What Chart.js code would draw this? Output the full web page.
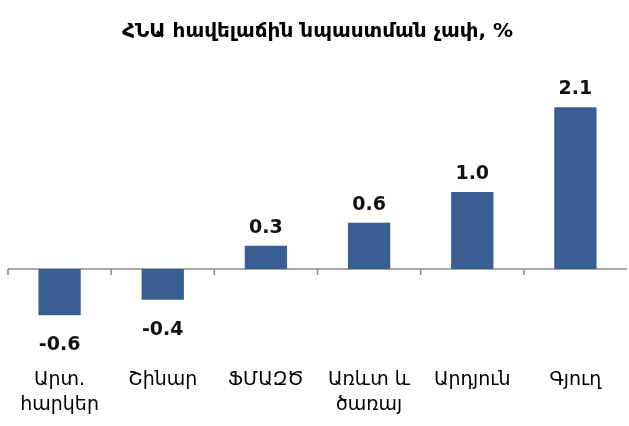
<!DOCTYPE html>
<html>
<head>
<meta charset="utf-8">
<script src="https://cdn.jsdelivr.net/npm/chart.js@4.4.0/dist/chart.umd.min.js"></script>
<style>
    html, body { margin: 0; padding: 0; background: #fff; }
    #wrap { width: 629px; height: 426px; }
</style>
</head>
<body>
<div id="wrap"><canvas id="gdpChart"></canvas></div>
<script>
// Chart data
const chartTitle = 'ՀՆԱ հավելաճին նպաստման չափ, %';
const categories = [
    ['Արտ.', 'հարկեր'],
    ['Շինար'],
    ['ՖՄԱԶԾ'],
    ['Առևտ և', 'ծառայ'],
    ['Արդյուն'],
    ['Գյուղ']
];
const contributions = [-0.6, -0.4, 0.3, 0.6, 1.0, 2.1];

const barColor = '#385E92';
const fontFamily = "'DejaVu Sans', 'Liberation Sans', Arial, sans-serif";

// Draw the zero line with small ticks between categories
const zeroAxisPlugin = {
    id: 'zeroAxis',
    beforeDatasetsDraw(chart) {
        const ctx = chart.ctx;
        const x = chart.scales.x;
        const y0 = chart.scales.y.getPixelForValue(0);
        ctx.save();
        ctx.strokeStyle = '#8c8c8c';
        ctx.lineWidth = 1.5;
        ctx.beginPath();
        ctx.moveTo(chart.chartArea.left, y0);
        ctx.lineTo(chart.chartArea.right, y0);
        const half = (x.getPixelForValue(1) - x.getPixelForValue(0)) / 2;
        for (let i = 0; i < categories.length; i++) {
            const px = x.getPixelForValue(i) - half;
            ctx.moveTo(px, y0);
            ctx.lineTo(px, y0 + 6);
        }
        ctx.stroke();
        ctx.restore();
    }
};

// Value labels above / below each bar
const valueLabelPlugin = {
    id: 'valueLabels',
    afterDatasetsDraw(chart) {
        const ctx = chart.ctx;
        const meta = chart.getDatasetMeta(0);
        ctx.save();
        ctx.font = 'bold 19px ' + fontFamily;
        ctx.fillStyle = '#111';
        ctx.textAlign = 'center';
        ctx.textBaseline = 'middle';
        meta.data.forEach((bar, i) => {
            const v = contributions[i];
            const y = v >= 0 ? bar.y - 18 : bar.y + 30;
            ctx.fillText(v.toFixed(1), bar.x, y);
        });
        ctx.restore();
    }
};

const ctx = document.getElementById('gdpChart').getContext('2d');
new Chart(ctx, {
    type: 'bar',
    data: {
        labels: categories,
        datasets: [{
            data: contributions,
            backgroundColor: barColor,
            categoryPercentage: 1.0,
            barPercentage: 0.41
        }]
    },
    options: {
        responsive: true,
        maintainAspectRatio: false,
        animation: false,
        layout: { padding: { left: 8, right: 2, top: 20, bottom: 0 } },
        plugins: {
            legend: { display: false },
            tooltip: { enabled: false },
            title: {
                display: true,
                text: chartTitle,
                color: '#000',
                font: { family: fontFamily, size: 20, weight: 'bold' },
                padding: { top: 0, bottom: 17 }
            }
        },
        scales: {
            x: {
                grid: { display: false },
                border: { display: false },
                ticks: {
                    color: '#000',
                    font: { family: fontFamily, size: 19, lineHeight: 1.3 },
                    maxRotation: 0,
                    autoSkip: false,
                    padding: 9
                }
            },
            y: {
                display: false,
                min: -1.06,
                max: 2.7
            }
        }
    },
    plugins: [zeroAxisPlugin, valueLabelPlugin]
});
</script>
</body>
</html>
